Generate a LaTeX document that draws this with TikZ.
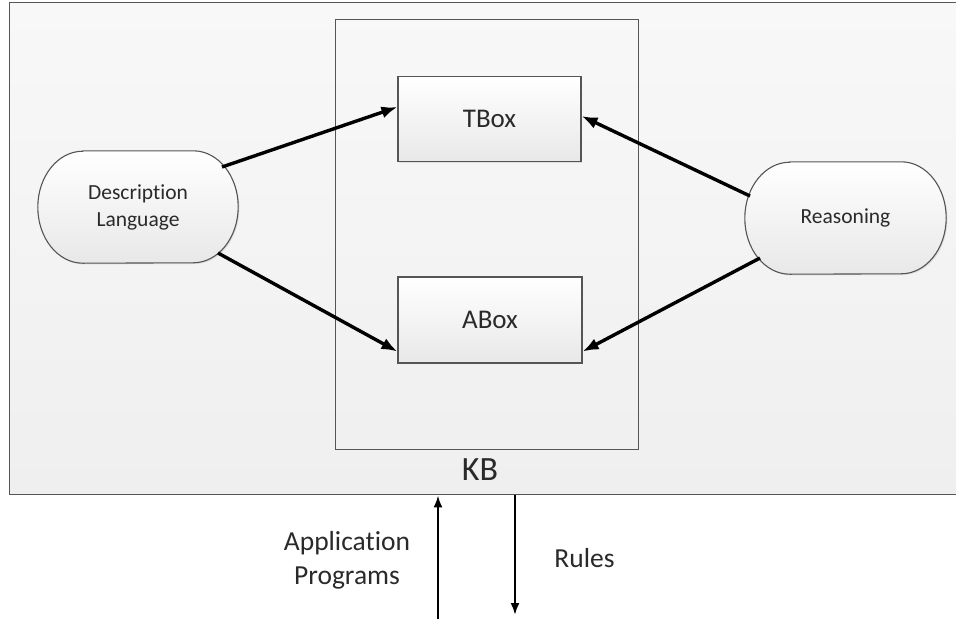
\documentclass[tikz,border=0pt]{standalone}
\usepackage{fontspec}
\setmainfont{Carlito}[Ligatures=NoCommon]
\usetikzlibrary{arrows.meta,calc,shadows}

\definecolor{frame}{HTML}{555555}
\definecolor{panelhi}{HTML}{F8F8F8}
\definecolor{panello}{HTML}{EFEFEF}
\definecolor{boxlow}{HTML}{E8E8E8}
\definecolor{ink}{HTML}{2A2A2A}

\tikzset{
  panelbox/.style={draw=frame, line width=1.4pt, top color=panelhi, bottom color=panello,
    minimum width=966pt, minimum height=492pt, anchor=north west, inner sep=0pt},
  kbbox/.style={draw=frame, line width=1.1pt, minimum width=303pt, minimum height=430pt,
    anchor=north west, inner sep=0pt},
  store/.style={draw=frame, line width=1.1pt, top color=white, bottom color=boxlow,
    drop shadow={shadow xshift=1.2pt, shadow yshift=-1.2pt, opacity=0.2},
    minimum width=183pt, minimum height=85pt, inner sep=0pt, text=ink,
    font=\fontsize{27}{32}\selectfont},
  termspot/.style={minimum width=200pt, minimum height=112pt, inner sep=0pt, align=center,
    text=ink, font=\fontsize{21.5}{27}\selectfont},
  termline/.style={draw=frame, line width=1.1pt, top color=white, bottom color=boxlow,
    drop shadow={shadow xshift=1.2pt, shadow yshift=-1.2pt, opacity=0.2}},
  link/.style={line width=3.4pt, -{Latex[length=16pt,width=12pt]}},
  feed/.style={line width=2.2pt, -{Latex[length=12pt,width=9pt]}},
  caption/.style={inner sep=0pt, align=center, text=ink, font=\fontsize{27.5}{34}\selectfont},
}

% terminator outline with elliptical ends, drawn round a named node
\newcommand{\terminator}[1]{%
  \path[termline] ([xshift=45pt]#1.north west) -- ([xshift=-45pt]#1.north east)
    arc[start angle=90, end angle=-90, x radius=45pt, y radius=56pt]
    -- ([xshift=45pt]#1.south west)
    arc[start angle=270, end angle=90, x radius=45pt, y radius=56pt] -- cycle;}

\begin{document}
\begin{tikzpicture}[x=1pt,y=1pt]
  \useasboundingbox (0,0) rectangle (956,-619);

  % knowledge-based system area and the KB itself
  \node[panelbox] (area) at (9,-2) {};
  \node[kbbox] (kb) at (335,-19) {};
  \node[caption, font=\fontsize{34}{40}\selectfont] (kblabel) at (480,-470) {KB};

  % the two component boxes
  \node[store] (tbox) at (489.5,-119) {TBox};
  \node[store, minimum width=184pt, minimum height=86pt] (abox) at (490,-320) {ABox};

  % side terminators
  \node[termspot] (dl) at (138,-207) {};
  \node[termspot, minimum width=201pt] (rs) at (845.5,-218) {};
  \terminator{dl}
  \terminator{rs}
  \node[termspot] (dltext) at (dl.center) {Description\\Language};
  \node[termspot] (rstext) at (rs.center) {Reasoning};

  % connector end points on the terminator outlines
  \coordinate (dl-up) at ($(dl.center)+(84,40)$);
  \coordinate (dl-dn) at ($(dl.center)+(80,-46)$);
  \coordinate (rs-up) at ($(rs.center)+(-95.5,22)$);
  \coordinate (rs-dn) at ($(rs.center)+(-85.5,-40)$);

  \draw[link] (dl-up) -- ([yshift=12pt]tbox.west);
  \draw[link] (dl-dn) -- ([yshift=12pt]abox.south west);
  \draw[link] (rs-up) -- ([yshift=3pt]tbox.east);
  \draw[link] (rs-dn) -- ([yshift=12pt]abox.south east);

  % inputs and outputs of the system
  \coordinate (appin) at (438,-619);
  \coordinate (rulesout) at (515,-615);
  \draw[feed] (appin) -- (appin |- area.south);
  \draw[feed] (rulesout |- area.south) -- (rulesout);
  \node[caption] (applabel) at (347,-560) {Application\\Programs};
  \node[caption] (ruleslabel) at (584.5,-558) {Rules};
\end{tikzpicture}
\end{document}
